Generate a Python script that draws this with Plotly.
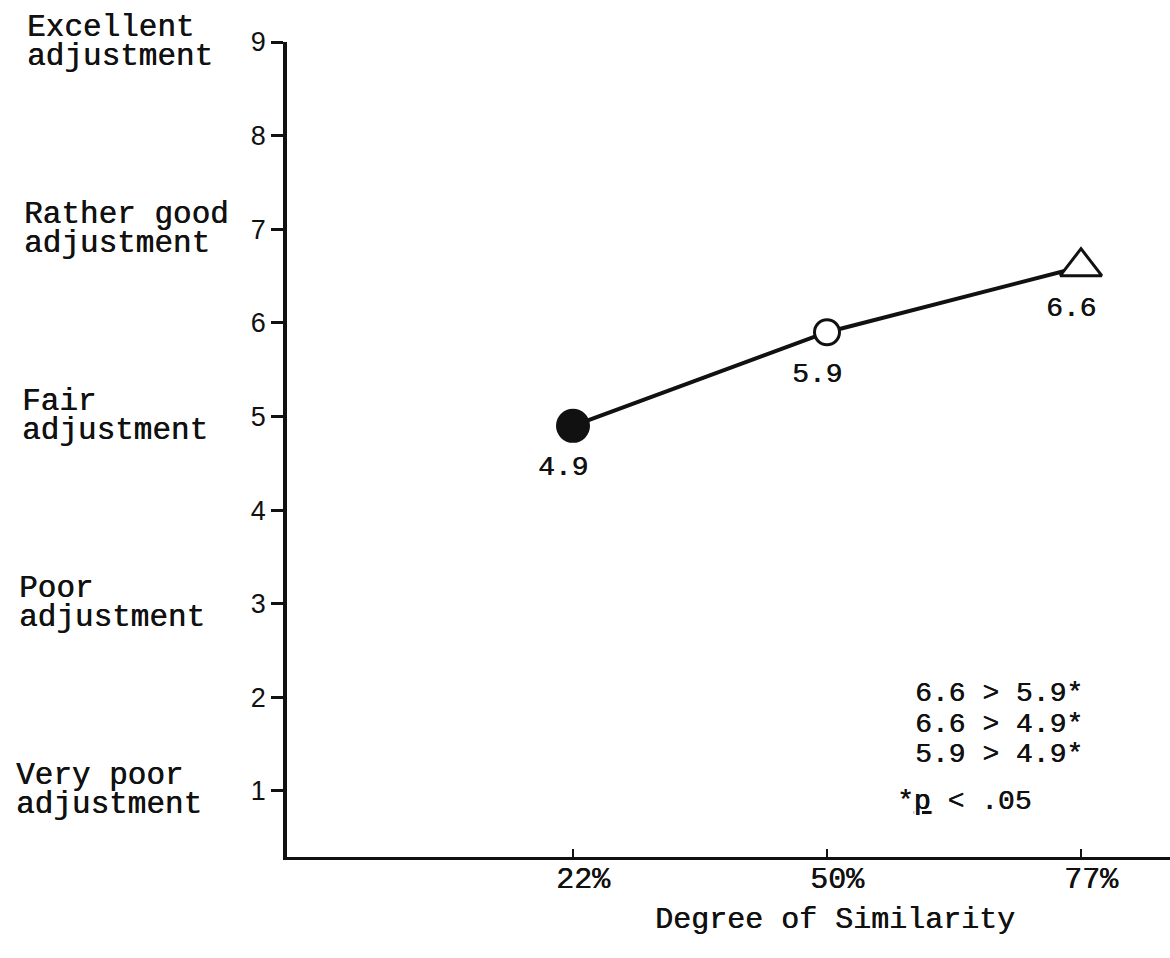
import plotly.graph_objects as go

# Similarity groups and mean adjustment ratings
similarity = ["22%", "50%", "77%"]
mean_rating = [4.9, 5.9, 6.6]
rating_text = ["4.9", "5.9", "6.6"]

# Verbal anchors of the 9-point adjustment scale
scale_values = [9, 7, 5, 3, 1]
scale_first = ["Excellent", "Rather good", "Fair", "Poor", "Very poor"]
scale_second = ["adjustment", "adjustment", "adjustment", "adjustment", "adjustment"]
y_ticks = [1, 2, 3, 4, 5, 6, 7, 8, 9]

# Pairwise comparisons
comparisons = ["6.6 &gt; 5.9*", "6.6 &gt; 4.9*", "5.9 &gt; 4.9*"]
signif_note = "*<span style='text-decoration:underline'>p</span> &lt; .05"

MONO = "Liberation Mono, Courier New, monospace"
SANS = "Liberation Sans, Arial, sans-serif"
INK = "#111111"
THICK = "0.5px 0px 0px #111111"  # slight stroke thickening for typewritten text

W, H = 1170, 958
L, R, T, B = 287, 0, 42, 101
PW, PH = W - L - R, H - T - B


def py_to_paper(py):
    return (H - B - py) / PH


def px_to_paper(px):
    return (px - L) / PW


def mono(size):
    return dict(family=MONO, size=size, color=INK, shadow=THICK)


fig = go.Figure()

# connecting line
fig.add_trace(go.Scatter(
    x=similarity, y=mean_rating, mode="lines",
    line=dict(color=INK, width=4),
    showlegend=False, hoverinfo="skip",
))
# group markers: filled circle, open circle, open triangle
fig.add_trace(go.Scatter(
    x=similarity, y=mean_rating, mode="markers",
    marker=dict(
        symbol=["circle", "circle", "triangle-up"],
        size=[31, 25, 36],
        color=[INK, "white", "white"],
        opacity=1,
        line=dict(color=INK, width=3),
    ),
    opacity=1,
    showlegend=False, hoverinfo="skip",
))

annotations = []

# value labels under each point
for xv, yv, txt in zip(similarity, mean_rating, rating_text):
    annotations.append(dict(
        x=xv, y=yv, xref="x", yref="y", text=txt, showarrow=False,
        yshift=-42, xshift=-10, font=mono(28),
    ))

# category labels along the x axis
for xv in similarity:
    annotations.append(dict(
        x=xv, y=py_to_paper(880), xref="x", yref="paper", text=xv,
        showarrow=False, xanchor="center", yanchor="middle", xshift=10,
        font=mono(30),
    ))

# scale anchors on the left
left_px = [25, 22, 20, 17, 14]
for v, a, b, px in zip(scale_values, scale_first, scale_second, left_px):
    annotations.append(dict(
        x=px_to_paper(px), y=v, xref="paper", yref="y", text=a,
        showarrow=False, xanchor="left", yanchor="middle", yshift=15,
        font=mono(31),
    ))
    annotations.append(dict(
        x=px_to_paper(px), y=v, xref="paper", yref="y", text=b,
        showarrow=False, xanchor="left", yanchor="middle", yshift=-14,
        font=mono(31),
    ))

# comparison block
for txt, py in zip(comparisons, [693, 724, 754]):
    annotations.append(dict(
        x=px_to_paper(913), y=py_to_paper(py), xref="paper", yref="paper",
        text=txt, showarrow=False, xanchor="left", yanchor="middle",
        font=mono(28),
    ))
annotations.append(dict(
    x=px_to_paper(895), y=py_to_paper(801), xref="paper", yref="paper",
    text=signif_note, showarrow=False, xanchor="left", yanchor="middle",
    font=mono(28),
))

# x-axis title
annotations.append(dict(
    x=px_to_paper(835), y=py_to_paper(920), xref="paper", yref="paper",
    text="Degree of Similarity", showarrow=False,
    xanchor="center", yanchor="middle", font=mono(30),
))

fig.update_layout(
    width=W, height=H,
    margin=dict(l=L, r=R, t=T, b=B, pad=0),
    paper_bgcolor="white",
    plot_bgcolor="white",
    annotations=annotations,
    xaxis=dict(
        type="category",
        range=[(L - 573) / 254, (W - 573) / 254],
        showgrid=False, zeroline=False,
        showline=True, linecolor=INK, linewidth=2.5,
        ticks="inside", ticklen=8, tickwidth=2, tickcolor=INK,
        showticklabels=False,
        fixedrange=True,
    ),
    yaxis=dict(
        range=[0.295, 9.0],
        tickvals=y_ticks,
        ticktext=[str(t) for t in y_ticks],
        showgrid=False, zeroline=False,
        showline=True, linecolor=INK, linewidth=3.5,
        ticks="outside", ticklen=12, tickwidth=2.5, tickcolor=INK,
        tickfont=dict(family=SANS, size=27, color=INK),
        ticklabelstandoff=0,
        fixedrange=True,
    ),
)

fig.write_html("out.html")
